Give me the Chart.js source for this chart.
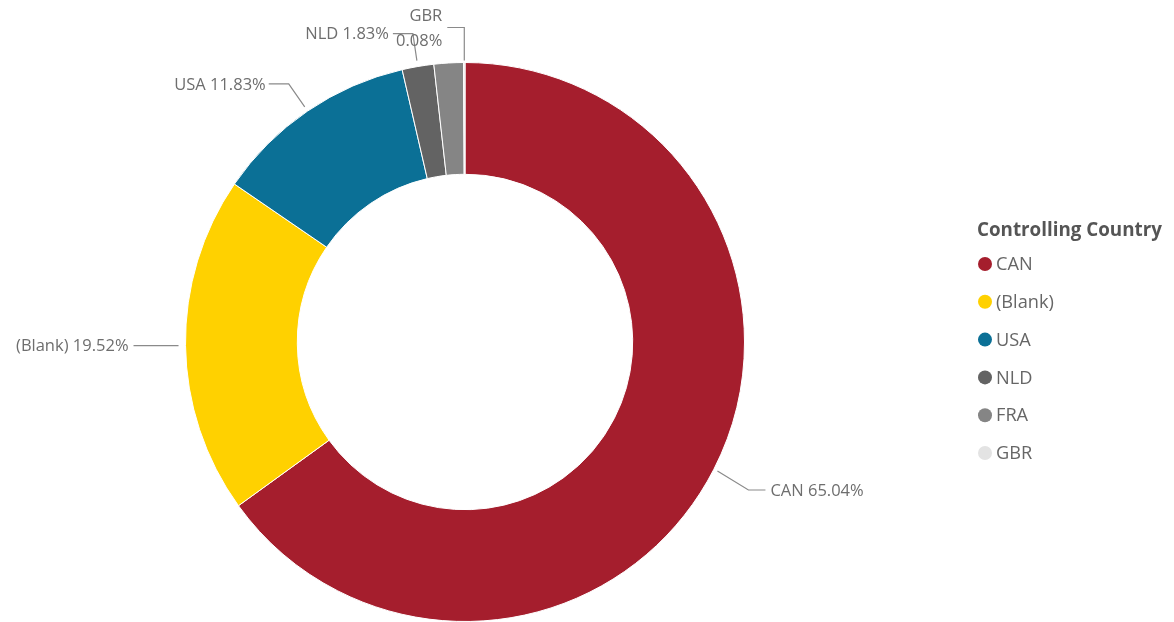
<!DOCTYPE html>
<html>
<head>
<meta charset="utf-8">
<script src="https://cdn.jsdelivr.net/npm/chart.js@4/dist/chart.umd.min.js"></script>
<style>
  html, body { margin: 0; padding: 0; background: #ffffff; }
  #wrap { width: 1174px; height: 622px; position: relative; }
</style>
</head>
<body>
<div id="wrap"><canvas id="chart" width="1174" height="622"></canvas></div>
<script>
// Share of records by controlling country
const categories = ['CAN', '(Blank)', 'USA', 'NLD', 'FRA', 'GBR'];
const shares = [65.04, 19.52, 11.83, 1.83, 1.70, 0.08];
const colors = ['#A51E2D', '#FFD100', '#0B7096', '#636363', '#858585', '#E3E3E3'];
const legendTitle = 'Controlling Country';
// Which slices get an outside data label (small ones overlap and are hidden)
const showLabel = [true, true, true, true, false, true];

// Leader-line geometry per slice: [radial start gap, elbow dx, elbow dy, horizontal run, text gap, two-line label]
const leaderLayout = [
  [4, 31, 19, 17, 5, false],
  [7, 0, 0, 45, 5, false],
  [5, -16, -23, 20, 3, false],
  [6, -4, -27, 20, 4, false],
  [6, 0, -30, 20, 5, false],
  [2, 0, -33, 17, 5, true]
];

const labelFont = '16.5px "Open Sans", "Noto Sans", sans-serif';
const labelColor = '#6e6e6e';

const pieLabels = {
  id: 'pieLabels',
  afterDatasetsDraw(chart) {
    const ctx = chart.ctx;
    const meta = chart.getDatasetMeta(0);
    ctx.save();
    ctx.font = labelFont;
    ctx.fillStyle = labelColor;
    ctx.strokeStyle = '#8a8a8a';
    ctx.lineWidth = 1.2;
    meta.data.forEach((arc, i) => {
      if (!showLabel[i]) return;
      const [gap, ex, ey, run, tgap, twoLine] = leaderLayout[i];
      const mid = (arc.startAngle + arc.endAngle) / 2;
      const r = arc.outerRadius + gap;
      const sx = arc.x + Math.cos(mid) * r;
      const sy = arc.y + Math.sin(mid) * r;
      const bx = sx + ex, by = sy + ey;
      const right = Math.cos(mid) >= 0;
      const hx = bx + (right ? run : -run);
      ctx.beginPath();
      ctx.moveTo(sx, sy);
      ctx.lineTo(bx, by);
      ctx.lineTo(hx, by);
      ctx.stroke();
      const pct = shares[i].toFixed(2) + '%';
      ctx.textAlign = right ? 'left' : 'right';
      ctx.textBaseline = 'middle';
      const tx = hx + (right ? tgap : -tgap);
      if (twoLine) {
        ctx.fillText(categories[i], tx, by - 11);
        ctx.fillText(pct, tx, by + 14);
      } else {
        ctx.fillText(categories[i] + ' ' + pct, tx, by + 1);
      }
    });
    ctx.restore();
  }
};

const sideLegend = {
  id: 'sideLegend',
  afterDraw(chart) {
    const ctx = chart.ctx;
    ctx.save();
    ctx.textBaseline = 'middle';
    ctx.textAlign = 'left';
    ctx.font = 'bold 18.8px "Open Sans", "Noto Sans", sans-serif';
    ctx.fillStyle = '#555555';
    ctx.fillText(legendTitle, 977, 231);
    ctx.font = '18.2px "Open Sans", "Noto Sans", sans-serif';
    categories.forEach((c, i) => {
      const y = 264 + i * 37.8;
      ctx.beginPath();
      ctx.arc(985, y, 7, 0, Math.PI * 2);
      ctx.fillStyle = colors[i];
      ctx.fill();
      ctx.fillStyle = '#666666';
      ctx.fillText(c, 996, y + 1);
    });
    ctx.restore();
  }
};

new Chart(document.getElementById('chart'), {
  type: 'doughnut',
  data: {
    labels: categories,
    datasets: [{
      data: shares,
      backgroundColor: colors,
      borderColor: '#ffffff',
      borderWidth: 1
    }]
  },
  options: {
    responsive: false,
    animation: false,
    cutout: '60%',
    layout: { padding: { left: 185, right: 429, top: 62, bottom: 0 } },
    plugins: {
      legend: { display: false },
      tooltip: { enabled: false }
    }
  },
  plugins: [pieLabels, sideLegend]
});
</script>
</body>
</html>
